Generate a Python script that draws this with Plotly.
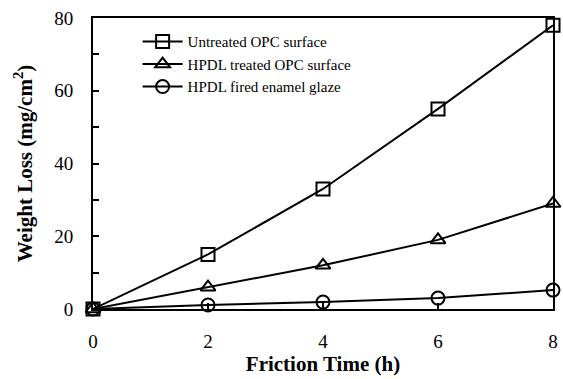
import plotly.graph_objects as go

time_h = [0, 2, 4, 6, 8]
untreated = [0, 15, 33, 55, 78]
hpdl_treated = [0, 6, 12, 19, 29]
hpdl_glaze = [0, 1.1, 1.9, 3, 5.2]
series_names = ["Untreated OPC surface", "HPDL treated OPC surface", "HPDL fired enamel glaze"]
x_ticks = [0, 2, 4, 6, 8]
y_ticks = [0, 20, 40, 60, 80]

FONT = "Liberation Serif, Times New Roman, DejaVu Serif, serif"
fig = go.Figure()
for name, ys, sym in zip(series_names, [untreated, hpdl_treated, hpdl_glaze],
                         ["square-open", "triangle-up-open", "circle-open"]):
    fig.add_trace(go.Scatter(
        x=time_h, y=ys, name=name, mode="lines+markers",
        line=dict(color="black", width=2),
        marker=dict(symbol=sym, size=13, color="black", line=dict(width=2, color="black")),
        cliponaxis=False,
    ))

axis_common = dict(showline=True, linecolor="black", linewidth=2, mirror=True,
                   ticks="inside", ticklen=6, tickwidth=2, tickcolor="black",
                   showgrid=False, zeroline=False, automargin=False,
                   tickfont=dict(family=FONT, size=19, color="black"))

fig.update_xaxes(range=[0, 8], tickvals=x_ticks, ticklabelstandoff=14,
                 title=dict(text="<b>Friction Time (h)</b>", font=dict(family=FONT, size=21, color="black"), standoff=6),
                 **axis_common)
fig.update_yaxes(range=[0, 80], tickvals=y_ticks, ticklabelstandoff=14,
                 minor=dict(dtick=10, ticks="inside", ticklen=6, tickwidth=2, tickcolor="black"),
                 title=dict(text="<b>Weight Loss (mg/cm<sup>2</sup>)</b>", font=dict(family=FONT, size=21, color="black"), standoff=16),
                 **axis_common)
fig.update_layout(
    width=563, height=379,
    margin=dict(l=93, r=10, t=18, b=70),
    plot_bgcolor="white", paper_bgcolor="white",
    font=dict(family=FONT, color="black"),
    legend=dict(x=0.097, y=0.975, xanchor="left", yanchor="top",
                font=dict(family=FONT, size=15, color="black"),
                bgcolor="rgba(0,0,0,0)", tracegroupgap=0, itemwidth=40),
    showlegend=True,
)
fig.write_html("out.html")
